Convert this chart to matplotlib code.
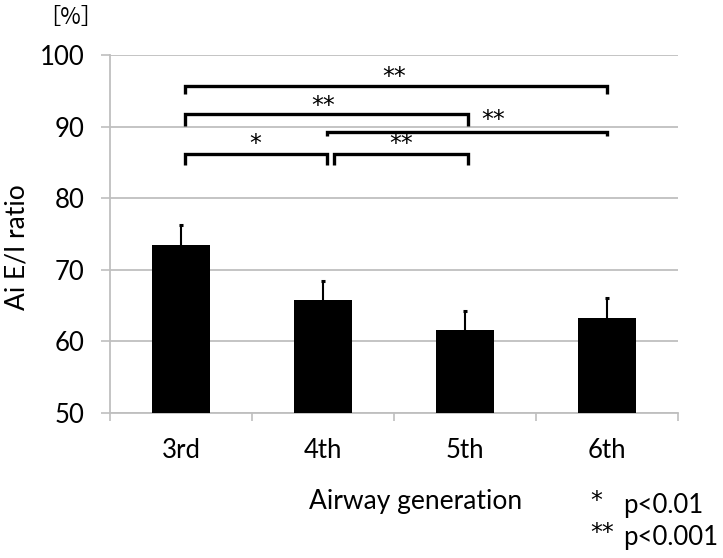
import matplotlib

matplotlib.use("Agg")

import matplotlib.pyplot as plt
import numpy as np


generations = ["3rd", "4th", "5th", "6th"]
ratio_mean = [73.5, 65.7, 61.6, 63.3]
ratio_sd = [2.7, 2.7, 2.6, 2.7]

# pairwise comparisons: (from index, to index, significance mark)
comparisons = [
    (0, 3, "**"),
    (0, 2, "**"),
    (1, 3, "**"),
    (0, 1, "*"),
    (1, 2, "**"),
]
legend_marks = ["*", "**"]
legend_labels = ["p<0.01", "p<0.001"]

# bracket layout (per comparison): x0, x1, bar height, leg length, label x, label y
bracket_layout = [
    (0.03, 3.00, 95.7, 1.1, 1.50, 96.9),
    (0.03, 2.02, 91.8, 1.7, 1.00, 92.9),
    (1.03, 3.00, 89.2, 0.5, 2.20, 90.9),
    (0.03, 1.03, 86.2, 1.6, 0.52, 87.5),
    (1.08, 2.02, 86.2, 1.6, 1.55, 87.5),
]

FONT = ["Lato", "DejaVu Sans"]
STAR_FONT = ["DejaVu Sans"]
GRID = "#bfbfbf"
FS = 18.5

plt.rcParams["font.family"] = FONT

fig = plt.figure(figsize=(7.23, 5.58), dpi=100)
ax = fig.add_axes([0.1521, 0.2604, 0.7856, 0.641])

x = np.arange(len(generations))
ax.bar(x, ratio_mean, width=0.41, color="black", zorder=3)

tops = np.array(ratio_mean) + np.array(ratio_sd)
ax.vlines(x, ratio_mean, tops, color="black", linewidth=1.5, zorder=3)
ax.plot(x, tops, ls="none", marker="_", markersize=3.5, markeredgewidth=2.2, color="black", zorder=3)

for (i, j, mark), (x0, x1, h, leg, lx, ly) in zip(comparisons, bracket_layout):
    ax.plot([x0, x0, x1, x1], [h - leg, h, h, h - leg], color="black", linewidth=2.4,
            solid_joinstyle="miter", solid_capstyle="butt", zorder=4)
    ax.text(lx, ly, mark, ha="center", va="center", fontsize=17, family=STAR_FONT)

ax.set_xlim(-0.5, len(generations) - 0.5)
ax.set_ylim(50, 100)
ax.set_yticks(np.arange(50, 101, 10))
ax.set_xticks(x)
ax.set_xticklabels(generations)
ax.set_xticks(np.arange(-0.5, len(generations)), minor=True)

ax.grid(axis="y", color=GRID, linewidth=1.3, zorder=0)
ax.tick_params(axis="x", which="major", length=0, pad=18, labelsize=FS)
ax.tick_params(axis="x", which="minor", length=6, width=1.2, color=GRID, direction="out")
ax.tick_params(axis="y", length=6.5, width=1.2, color=GRID, pad=12, labelsize=FS)

for side in ["top", "right"]:
    ax.spines[side].set_visible(False)
for side in ["left", "bottom"]:
    ax.spines[side].set_color(GRID)
    ax.spines[side].set_linewidth(1.3)

ax.text(-0.164, 0.463, "Ai E/I ratio", transform=ax.transAxes, rotation=90,
        ha="center", va="center", fontsize=19)

fig.text(71 / 723, 1 - 17 / 558, "［%］", ha="center", va="center", fontsize=16,
         family=["Noto Sans CJK JP", "DejaVu Sans"])
fig.text(309 / 723, 1 - 502 / 558, "Airway generation", ha="left", va="center", fontsize=19)

for k, (mark, label) in enumerate(zip(legend_marks, legend_labels)):
    yy = 1 - (505 + 32 * k) / 558
    fig.text(590 / 723, yy + 0.008, mark, ha="left", va="center", fontsize=17, family=STAR_FONT)
    fig.text(623 / 723, yy, label, ha="left", va="center", fontsize=FS)

fig.savefig("out.png", dpi=100)
